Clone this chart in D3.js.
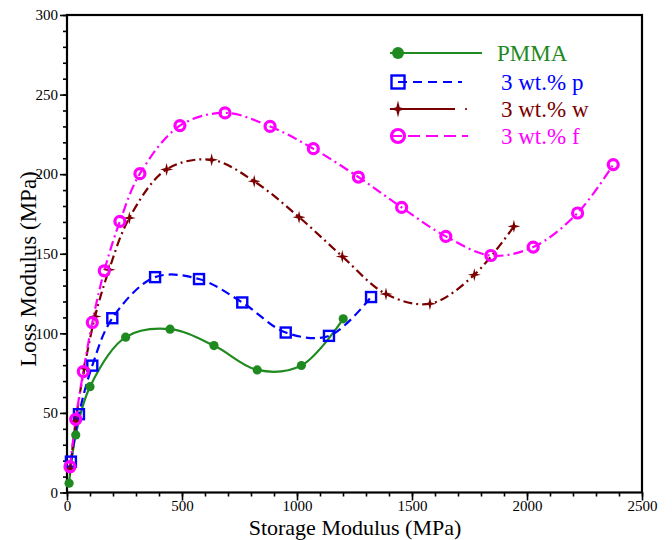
<!DOCTYPE html>
<html>
<head>
<meta charset="utf-8">
<script src="https://cdn.jsdelivr.net/npm/d3@7"></script>
<style>
html,body{margin:0;padding:0;background:#fff;}
svg{display:block;}
svg text{font-family:"Liberation Serif","Tinos","Times New Roman",Times,"DejaVu Serif","Noto Serif",serif;}
</style>
</head>
<body>
<svg id="chart" width="672" height="540"></svg>
<script>
// ---- data (Storage Modulus, Loss Modulus in MPa) ----
const pmmaX = [9, 38, 100, 255, 448, 639, 827, 1019, 1201];
const pmmaY = [5.8, 36.2, 66.5, 97.6, 102.6, 92.3, 77, 79.8, 109.1];

const pX = [17, 52, 110, 197, 383, 574, 762, 951, 1139, 1322];
const pY = [19.4, 49.2, 79.7, 109.5, 135.3, 134.1, 119.4, 100.5, 98.4, 122.8];

const wX = [14, 38, 75, 122, 183, 271, 433, 629, 814, 1009, 1197, 1387, 1578, 1771, 1943];
const wY = [15, 45, 78, 110.6, 140, 172.5, 203, 209, 195.5, 173, 148.3, 124.7, 118.6, 136.8, 167.2];

const fX = [13, 38, 71, 110, 162, 230, 317, 491, 687, 883, 1071, 1267, 1455, 1647, 1843, 2027, 2220, 2375];
const fY = [16.2, 46, 76, 106.8, 139.3, 170.3, 200.3, 230.5, 238.5, 230, 216, 198.2, 179.1, 160.9, 148.9, 154.2, 175.6, 206];

const seriesNames = ["PMMA", "3 wt.% p", "3 wt.% w", "3 wt.% f"];
const xTicks = [0, 500, 1000, 1500, 2000, 2500];
const yTicks = [0, 50, 100, 150, 200, 250, 300];

// ---- layout ----
const FONT = '"Liberation Serif","Tinos","Times New Roman",Times,"DejaVu Serif","Noto Serif",serif';
const svg = d3.select("#chart");
const L = 67, R = 642, T = 15, B = 492.5;
const x = d3.scaleLinear().domain([0, 2500]).range([L, R]);
const y = d3.scaleLinear().domain([0, 300]).range([B, T]);

const colors = ["#1f8a1f", "#0000ff", "#7a0000", "#ff00ff"];
const dashes = [null, "9,5", "9,4,2,4", "10,4,2,4"];

const zip = (xs, ys) => xs.map((v, i) => [v, ys[i]]);
const series = [
  {name: seriesNames[0], pts: zip(pmmaX, pmmaY)},
  {name: seriesNames[1], pts: zip(pX, pY)},
  {name: seriesNames[2], pts: zip(wX, wY)},
  {name: seriesNames[3], pts: zip(fX, fY)}
];

// ---- axes ----
const xAxisMinor = d3.axisBottom(x).tickValues(d3.range(0, 2501, 100)).tickSize(4).tickFormat("");
const yAxisMinor = d3.axisLeft(y).tickValues(d3.range(0, 301, 10)).tickSize(4).tickFormat("");
const xAxis = d3.axisBottom(x).tickValues(xTicks).tickSize(8).tickPadding(0).tickFormat(d3.format("d"));
const yAxis = d3.axisLeft(y).tickValues(yTicks).tickSize(7).tickPadding(2).tickFormat(d3.format("d"));

function styleAxis(g){
  g.attr("font-family", FONT).attr("font-size", 15);
  g.select(".domain").remove();
  g.selectAll("line").attr("stroke", "#000").attr("stroke-width", 1.6);
  g.selectAll("text").attr("fill", "#000").attr("font-family", FONT).style("font-size", "15px");
}
svg.append("g").attr("transform", `translate(0,${B})`).call(xAxisMinor).call(styleAxis);
svg.append("g").attr("transform", `translate(${L},0)`).call(yAxisMinor).call(styleAxis);
svg.append("g").attr("transform", `translate(0,${B})`).call(xAxis).call(styleAxis);
svg.append("g").attr("transform", `translate(${L},0)`).call(yAxis).call(styleAxis);

// frame
svg.append("rect").attr("x", L).attr("y", T).attr("width", R - L).attr("height", B - T)
  .attr("fill", "none").attr("stroke", "#000").attr("stroke-width", 2.2);

// axis titles
svg.append("text").attr("x", (L + R) / 2 + 0.5).attr("y", 535).attr("text-anchor", "middle")
  .attr("font-family", FONT).style("font-size", "22px").text("Storage Modulus (MPa)");
svg.append("text").attr("transform", `translate(36,269) rotate(-90)`).attr("text-anchor", "middle")
  .attr("font-family", FONT).style("font-size", "23px").text("Loss Modulus (MPa)");

// ---- lines ----
const line = d3.line().x(d => x(d[0])).y(d => y(d[1])).curve(d3.curveCatmullRom.alpha(0.5));

series.forEach((s, i) => {
  svg.append("path").datum(s.pts).attr("d", line).attr("fill", "none")
    .attr("stroke", colors[i]).attr("stroke-width", 2.2)
    .attr("stroke-dasharray", dashes[i]);
});

// ---- markers ----
const starPath = (cx, cy, r) => {
  const ri = r * 0.28;
  let d = "";
  for (let k = 0; k < 8; k++) {
    const a = Math.PI / 4 * k - Math.PI / 2;
    const rr = k % 2 === 0 ? r : ri;
    d += (k === 0 ? "M" : "L") + (cx + rr * Math.cos(a)).toFixed(2) + "," + (cy + rr * Math.sin(a)).toFixed(2);
  }
  return d + "Z";
};

function drawMarker(g, i, cx, cy, big) {
  const s = big ? 1.3 : 1;
  if (i === 0) {
    g.append("circle").attr("cx", cx).attr("cy", cy).attr("r", 4.6 * s).attr("fill", colors[0]);
  } else if (i === 1) {
    const h = 5 * s;
    g.append("rect").attr("x", cx - h).attr("y", cy - h).attr("width", 2 * h).attr("height", 2 * h)
      .attr("fill", "none").attr("stroke", colors[1]).attr("stroke-width", 2.4);
  } else if (i === 2) {
    g.append("path").attr("d", starPath(cx, cy, 6.5 * s)).attr("fill", colors[2]);
  } else {
    g.append("circle").attr("cx", cx).attr("cy", cy).attr("r", 5 * s)
      .attr("fill", "none").attr("stroke", colors[3]).attr("stroke-width", 3.2);
  }
}

series.forEach((s, i) => {
  const g = svg.append("g");
  s.pts.forEach(p => drawMarker(g, i, x(p[0]), y(p[1]), false));
});

// ---- legend ----
const legRows = [53, 82, 109, 136];
const legText = [497, 501, 501, 501];
const leg = svg.append("g");
legRows.forEach((ry, i) => {
  if (i === 0) {
    leg.append("line").attr("x1", 390).attr("x2", 482).attr("y1", ry).attr("y2", ry)
      .attr("stroke", colors[0]).attr("stroke-width", 2.2);
  } else if (i === 1) {
    leg.append("line").attr("x1", 398).attr("x2", 462).attr("y1", ry).attr("y2", ry)
      .attr("stroke", colors[1]).attr("stroke-width", 2).attr("stroke-dasharray", "9,6");
  } else if (i === 2) {
    leg.append("line").attr("x1", 390).attr("x2", 455).attr("y1", ry).attr("y2", ry)
      .attr("stroke", colors[2]).attr("stroke-width", 2);
    leg.append("circle").attr("cx", 466).attr("cy", ry).attr("r", 1.1).attr("fill", colors[2]);
  } else {
    leg.append("line").attr("x1", 390).attr("x2", 468).attr("y1", ry).attr("y2", ry)
      .attr("stroke", colors[3]).attr("stroke-width", 2).attr("stroke-dasharray", "12,6");
  }
  drawMarker(leg, i, 398, ry, true);
  leg.append("text").attr("x", legText[i]).attr("y", ry + 8).attr("font-family", FONT)
    .style("font-size", "23px").attr("fill", colors[i]).text(seriesNames[i]);
});
</script>
</body>
</html>
